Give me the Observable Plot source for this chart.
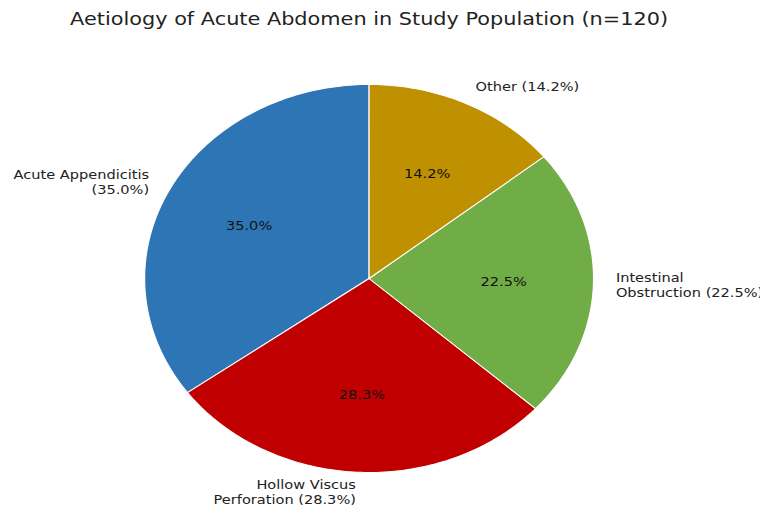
<!DOCTYPE html>
<html><head><meta charset="utf-8">
<script src="https://cdn.jsdelivr.net/npm/d3@7"></script>
<script src="https://cdn.jsdelivr.net/npm/@observablehq/plot@0.6"></script>
<style>
body{margin:0;background:#fff;overflow:hidden}
#chart svg{transform:scaleX(1.157);transform-origin:0 0;display:block;background:#fff}
</style>
</head><body><div id="chart"></div>
<script>
const categories = ["Acute Appendicitis", "Hollow Viscus Perforation", "Intestinal Obstruction", "Other"];
const values = [35.0, 28.3, 22.5, 14.2];
const colors = ["#2e75b6", "#c00000", "#70ad47", "#bf9000"];
const outerLabels = ["Acute Appendicitis\n(35.0%)", "Hollow Viscus\nPerforation (28.3%)", "Intestinal\nObstruction (22.5%)", "Other (14.2%)"];
const title = "Aetiology of Acute Abdomen in Study Population (n=120)";

const total = d3.sum(values);
const rad = Math.PI / 180;
let acc = 0;
const slices = categories.map((c, i) => {
  const a0 = 90 + acc / total * 360;
  acc += values[i];
  const a1 = 90 + acc / total * 360;
  const mid = (a0 + a1) / 2;
  const pts = [{x: 0, y: 0}];
  const n = Math.max(2, Math.ceil((a1 - a0) / 1));
  for (let k = 0; k <= n; k++) {
    const a = (a0 + (a1 - a0) * k / n) * rad;
    pts.push({x: Math.cos(a), y: Math.sin(a)});
  }
  return {
    category: c, value: values[i], color: colors[i], label: outerLabels[i], pts,
    lx: 1.1 * Math.cos(mid * rad), ly: 1.1 * Math.sin(mid * rad),
    px: 0.6 * Math.cos(mid * rad), py: 0.6 * Math.sin(mid * rad),
    pct: d3.format(".1f")(values[i] / total * 100) + "%"
  };
});

const W = 657, H = 506;
const cx = 318.5, cy = 278, r = 194;
const font = "DejaVu Sans";

const chart = Plot.plot({
  width: W, height: H,
  marginLeft: cx - r, marginRight: W - (cx + r),
  marginTop: cy - r, marginBottom: H - (cy + r),
  x: {domain: [-1, 1], axis: null},
  y: {domain: [-1, 1], axis: null},
  style: {fontFamily: font, background: "#fff"},
  marks: [
    ...slices.map(s => Plot.line(s.pts, {x: "x", y: "y", fill: s.color, stroke: "white", strokeWidth: 1, curve: "linear-closed"})),
    Plot.text(slices, {x: "px", y: "py", text: "pct", fontSize: 12.6, fill: "#111", fontFamily: font}),
    Plot.text(slices.filter(s => s.lx >= 0), {x: "lx", y: "ly", text: "label", textAnchor: "start", lineAnchor: "middle", lineHeight: 1.2, fontSize: 12.6, fill: "#222", fontFamily: font}),
    Plot.text(slices.filter(s => s.lx < 0), {x: "lx", y: "ly", text: "label", textAnchor: "end", lineAnchor: "middle", lineHeight: 1.2, fontSize: 12.6, fill: "#222", fontFamily: font}),
    Plot.text([title], {frameAnchor: "top", text: d => d, dy: -(cy - r) + 19, lineAnchor: "middle", fontSize: 18, fill: "#222", fontFamily: font})
  ]
});
document.getElementById("chart").append(chart);
</script>
</body></html>
